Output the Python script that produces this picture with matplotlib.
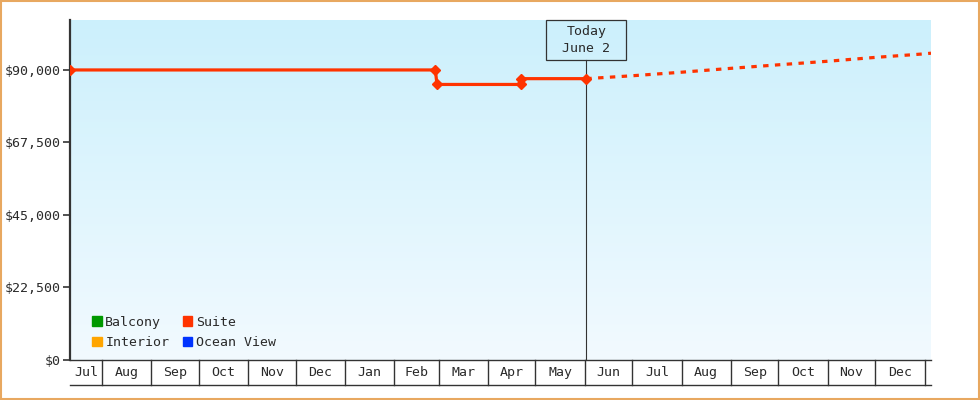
import numpy as np
import pandas as pd
import matplotlib
matplotlib.use("Agg")
import matplotlib.pyplot as plt
import matplotlib.patches as mpatches
import matplotlib.transforms as mtransforms
from matplotlib.ticker import FuncFormatter

# --- data ---
suite_dates = ["2024-07-12", "2025-02-27", "2025-02-28", "2025-04-22", "2025-04-22", "2025-06-02"]
suite_prices = [90000, 90000, 85500, 85500, 87300, 87300]

proj_dates = ["2025-06-02", "2025-07-01", "2025-08-01", "2025-09-01", "2025-10-01",
              "2025-11-01", "2025-12-01", "2026-01-01", "2026-01-05"]
proj_prices = [87300, 88200, 89300, 90500, 91600, 92700, 93900, 95000, 95200]

legend_names = ["Balcony", "Interior", "Suite", "Ocean View"]
legend_colors = ["#009900", "#ffa500", "#ff3300", "#0033ff"]

y_ticks = [0, 22500, 45000, 67500, 90000]
x_start, x_end = pd.Timestamp("2024-07-12"), pd.Timestamp("2026-01-05")
today = pd.Timestamp("2025-06-02")
today_label = "Today\nJune 2"

plt.rcParams["font.family"] = "DejaVu Sans Mono"
plt.rcParams["font.size"] = 9.5
txt = "#2a2a2a"

fig = plt.figure(figsize=(9.8, 4.0), dpi=100)
ax_w, ax_h = 861, 340
ax = fig.add_axes([70 / 980, 40 / 400, ax_w / 980, ax_h / 400])

x0n = matplotlib.dates.date2num(x_start)
x1n = matplotlib.dates.date2num(x_end)
ymax = 105500
ax.set_xlim(x0n, x1n)
ax.set_ylim(0, ymax)

# gradient background
grad = np.linspace(0, 1, 256)[:, None]
top = np.array([204, 240, 252]) / 255
bot = np.array([242, 250, 255]) / 255
img = top[None, None, :] * (1 - grad[..., None]) + bot[None, None, :] * grad[..., None]
ax.imshow(img, extent=[x0n, x1n, 0, ymax], aspect="auto", origin="upper", zorder=0)

# suite line
sd = pd.to_datetime(suite_dates)
ax.plot(sd, suite_prices, color="#ff3300", lw=2.3, marker="D", ms=5.5, zorder=3,
        solid_capstyle="butt")
pd_ = pd.to_datetime(proj_dates)
ax.plot(pd_, proj_prices, color="#ff3300", lw=2.3, ls=(0, (1.7, 2.0)), zorder=3)

# today marker line + box
tn = matplotlib.dates.date2num(today)
tfrac = (tn - x0n) / (x1n - x0n)
box_w, box_hh = 80 / ax_w, 40 / ax_h
ax.plot([tfrac, tfrac], [0, 1 - box_hh], transform=ax.transAxes, color="#333333", lw=0.8, zorder=2)
ax.add_patch(mpatches.Rectangle((tfrac - box_w / 2, 1 - box_hh), box_w, box_hh,
                                transform=ax.transAxes, fill=False, ec="#333333", lw=0.9,
                                zorder=4, clip_on=False))
ax.text(tfrac, 1 - box_hh / 2, today_label, transform=ax.transAxes, ha="center", va="center",
        color=txt, linespacing=1.5, zorder=4)

# axes styling
for s in ["top", "right"]:
    ax.spines[s].set_visible(False)
ax.spines["left"].set_color("#333333")
ax.spines["left"].set_linewidth(1.6)
ax.spines["bottom"].set_color("#333333")
ax.spines["bottom"].set_linewidth(1.0)
ax.set_yticks(y_ticks)
ax.yaxis.set_major_formatter(FuncFormatter(lambda v, p: f"${v:,.0f}"))
ax.tick_params(axis="y", length=5, width=1.2, color="#333333", labelcolor=txt, pad=2)
ax.set_xticks([])

# month boxes below the axis
trans = mtransforms.blended_transform_factory(ax.transData, ax.transAxes)
box_h = 25 / ax_h
bounds = pd.date_range("2024-08-01", "2026-01-01", freq="MS")
edges = [x_start] + list(bounds) + [x_end]
for b in bounds:
    ax.plot([b, b], [0, -box_h], transform=trans, color="#333333", lw=1.0, clip_on=False)
ax.plot([x_start, x_end], [-box_h, -box_h], transform=trans, color="#333333", lw=1.0,
        clip_on=False)
for a, b in zip(edges[:-1], edges[1:]):
    if (b - a).days < 15:
        continue
    mid = a + (b - a) / 2
    ax.text(mid, -box_h / 2, mid.strftime("%b"), transform=trans, ha="center", va="center",
            color=txt, clip_on=False)

# legend
handles = [mpatches.Patch(color=c, label=n) for n, c in zip(legend_names, legend_colors)]
leg = ax.legend(handles=handles, ncol=2, loc="lower left", bbox_to_anchor=(0.015, 0.005),
                frameon=False, handlelength=0.75, handleheight=0.75, handletextpad=0.25,
                columnspacing=1.0, labelspacing=0.55, borderpad=0.2)
for t in leg.get_texts():
    t.set_color(txt)

# orange frame
fig.patches.append(mpatches.Rectangle((0.001, 0.002), 0.998, 0.996, transform=fig.transFigure,
                                      fill=False, ec="#e8a860", lw=1.5))

fig.savefig("out.png", dpi=100)
